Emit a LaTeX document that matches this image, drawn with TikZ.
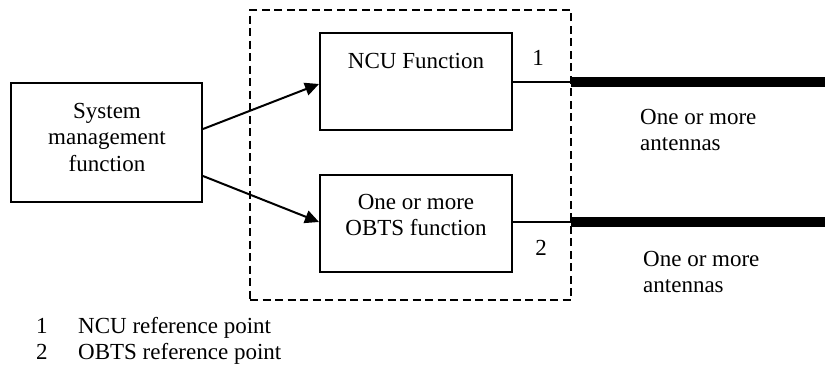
\documentclass[tikz,border=0pt]{standalone}
\usepackage{fontspec}
\setmainfont{Liberation Serif}
\usetikzlibrary{arrows.meta}
\begin{document}
\begin{tikzpicture}[x=1pt,y=-1pt,
  box/.style={draw,line width=2pt,inner sep=0pt},
  txt/.style={inner sep=0pt,align=center,font=\fontsize{23}{26.5}\selectfont},
  ltxt/.style={inner sep=0pt,align=left,anchor=west,font=\fontsize{23}{26.5}\selectfont},
  legtxt/.style={inner sep=0pt,anchor=base west,font=\fontsize{23}{26.5}\selectfont},
  arr/.style={line width=2pt,-{Triangle[length=14pt,width=13pt]}},
  thin/.style={line width=1.3pt},
  antenna/.style={line width=10pt},
  dashbox/.style={draw,line width=1.8pt,dash pattern=on 8pt off 4.5pt}]
\useasboundingbox (0,0) rectangle (825,367);
% dashed enclosure
\node[dashbox,minimum width=321pt,minimum height=290pt,inner sep=0pt] (enc) at (410.5,155) {};
% boxes
\node[box,minimum width=191pt,minimum height=119pt] (sys) at (106.5,142.5) {};
\node[txt] (systxt) at (107,137) {System\\management\\function};
\node[box,minimum width=192pt,minimum height=97pt] (ncu) at (416,81.5) {};
\node[txt] (ncutxt) at (416,61) {NCU Function};
\node[box,minimum width=192pt,minimum height=97pt] (obts) at (416,223.5) {};
\node[txt] (obtstxt) at (416,215) {One or more\\OBTS function};
% arrows
\draw[arr] (sys.east |- 0,129) -- (ncu.west |- 0,84);
\draw[arr] (sys.east |- 0,176) -- (obts.west |- 0,222);
% reference lines and antennas
\coordinate (r1) at (571,82);
\coordinate (e1) at (825,82);
\coordinate (r2) at (571,222);
\coordinate (e2) at (825,222);
\draw[thin] (ncu.east |- r1) -- (r1);
\draw[antenna] (r1) -- (e1);
\draw[thin] (obts.east |- r2) -- (r2);
\draw[antenna] (r2) -- (e2);
\node[txt] (n1) at (538,58) {1};
\node[txt] (n2) at (541,248) {2};
\node[ltxt] (ant1) at (640,130) {One or more\\antennas};
\node[ltxt] (ant2) at (643,272) {One or more\\antennas};
% legend
\node[legtxt] (l1) at (36,333) {1};
\node[legtxt] (l1t) at (78,333) {NCU reference point};
\node[legtxt] (l2) at (36,359) {2};
\node[legtxt] (l2t) at (78,359) {OBTS reference point};
\end{tikzpicture}
\end{document}
